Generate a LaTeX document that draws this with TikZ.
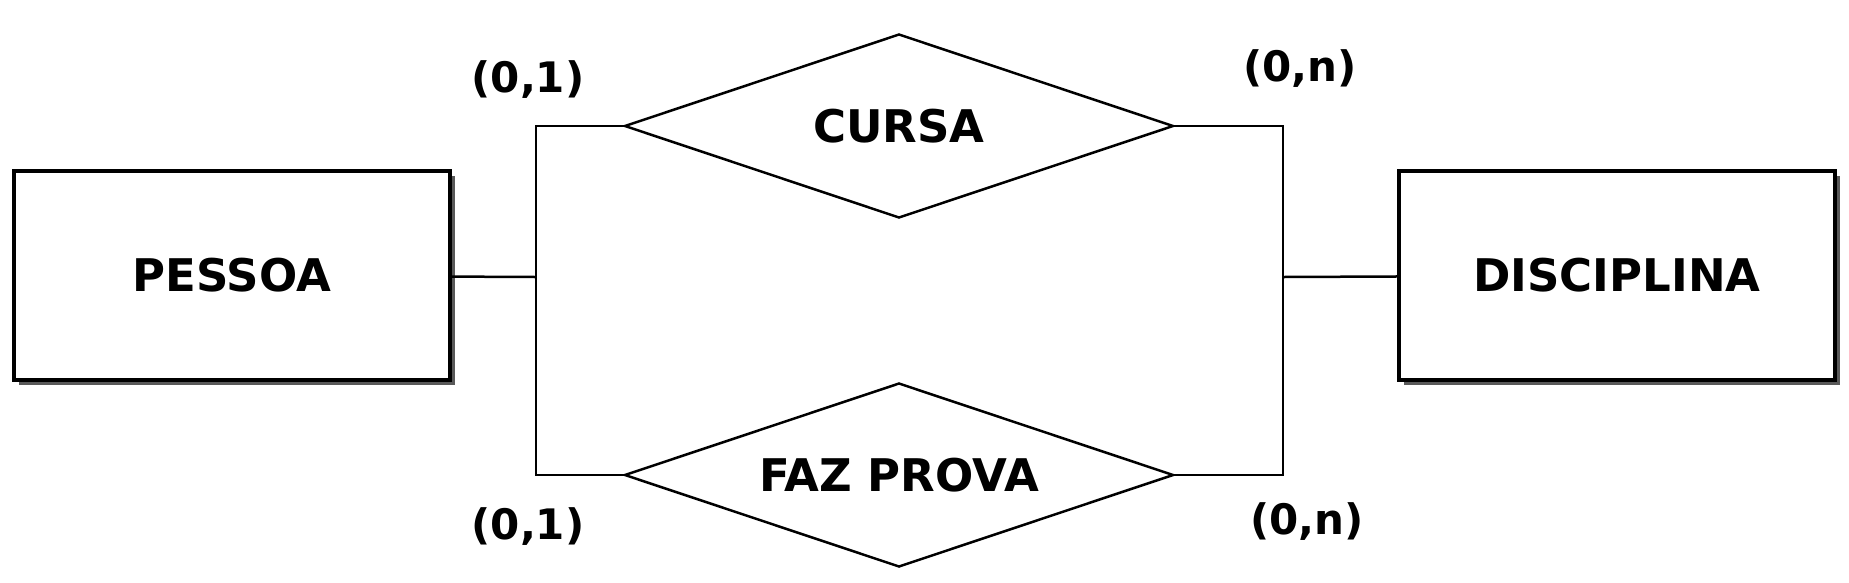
\documentclass[tikz,border=0pt]{standalone}
\usepackage{fontspec}
\setmainfont{DejaVu Sans}
\usepackage{tikz}
\usetikzlibrary{calc}
\usetikzlibrary{shadows}
\usetikzlibrary{shapes.geometric}

\begin{document}
\begin{tikzpicture}[x=1pt,y=-1pt,font=\fontsize{45}{54}\selectfont\bfseries,
	entidade/.style={draw,line width=3.5pt,fill=white,minimum width=436pt,minimum height=209pt,
		drop shadow={shadow xshift=5pt,shadow yshift=-5pt,fill=black!65,opacity=1}},
	relacao/.style={draw,diamond,shape aspect=3,line width=2.5pt,inner sep=0pt,outer sep=0pt,
		minimum width=548pt,minimum height=183pt},
	ligacao/.style={line width=2.5pt},
	card/.style={font=\fontsize{42}{50}\selectfont\bfseries}]
	\useasboundingbox (0,0) rectangle (1849,582);
	\node[entidade] (pessoa) at (232,275.5) {PESSOA};
	\node[entidade] (disciplina) at (1617,275.5) {DISCIPLINA};
	\node[relacao] (cursa) at (899,126) {\raisebox{-4pt}{CURSA}};
	\node[relacao] (fazprova) at (899,475) {\raisebox{-4pt}{FAZ PROVA}};
	\coordinate (jl) at (536,277);
	\coordinate (jr) at (1283,277);
	\draw[ligacao] (pessoa) -- (jl);
	\draw[ligacao] (cursa.west) -| (jl) |- (fazprova.west);
	\draw[ligacao] (disciplina) -- (jr);
	\draw[ligacao] (cursa.east) -| (jr) |- (fazprova.east);
	\node[card] (c1) at (528,80) {(0,1)};
	\node[card] (c2) at (528,527) {(0,1)};
	\node[card] (c3) at (1300,69) {(0,n)};
	\node[card] (c4) at (1307,522) {(0,n)};
\end{tikzpicture}
\end{document}
